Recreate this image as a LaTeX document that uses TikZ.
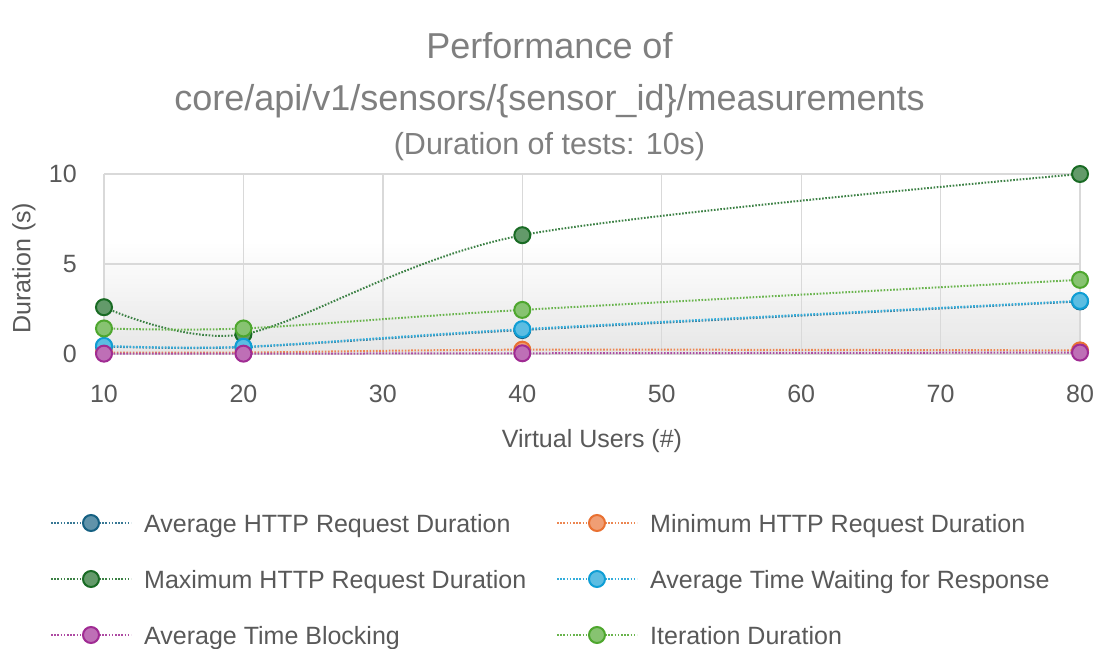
\documentclass[tikz,border=0pt]{standalone}
\usepackage{fontspec}
\setmainfont{Liberation Sans}
\definecolor{cA}{HTML}{156082}
\definecolor{cB}{HTML}{E97132}
\definecolor{cC}{HTML}{196B24}
\definecolor{cD}{HTML}{0F9ED5}
\definecolor{cE}{HTML}{A02B93}
\definecolor{cF}{HTML}{4EA72E}
\definecolor{labelgray}{HTML}{595959}
\definecolor{titlegray}{HTML}{7F7F7F}
\definecolor{gridgray}{HTML}{D9D9D9}
\definecolor{shadegray}{HTML}{E6E6E6}
\begin{document}
\begin{tikzpicture}[x=1pt,y=-1pt,
  lbl/.style={text=labelgray,font=\fontsize{25}{30}\selectfont,inner sep=0pt},
  ttl/.style={text=titlegray,font=\fontsize{36}{42}\selectfont,inner sep=0pt,anchor=base},
  subttl/.style={text=titlegray,font=\fontsize{30.5}{36}\selectfont,inner sep=0pt,anchor=base},
  gridln/.style={draw=gridgray,line width=1.3pt},
  mk/.style={circle,minimum size=16pt,inner sep=0pt,line width=2pt,draw=#1,fill=#1!68!white},
  ser/.style={draw=#1!85!white,line width=2pt,dash pattern=on 1.6pt off 1.6pt},
]
\fill[white] (0,0) rectangle (1099,648);
\useasboundingbox (0,0) rectangle (1099,648);

% title
\node[ttl] (t1) at (549.5,58) {Performance of};
\node[ttl] (t2) at (549.5,110) {core/api/v1/sensors/\{sensor\_id\}/measurements};
\node[subttl] (t3) at (549.5,154) {(Duration of tests: 10s)};

% plot area background: light grey gradient growing towards the bottom
\foreach \k in {0,...,24} {
  \pgfmathsetmacro\p{(\k+0.5)*4}
  \fill[shadegray!\p!white] (104,{244+\k*4.4}) rectangle (1080,{244+\k*4.4+4.6});
}

% plot
\begin{scope}[shift={(-35.43pt,-354pt)},x=13.943pt,y=18pt]
  \foreach \v in {10,20,...,80} {
    \draw[gridln] (\v,0) -- (\v,10);
    \node[lbl] (xt\v) at (\v,-2.22) {\v};
  }
  \foreach \d in {0,5,10} {
    \draw[gridln] (10,\d) -- (80,\d);
    \node[lbl,anchor=east] (yt\d) at (8.06,\d) {\d};
  }
  % data coordinates
  \coordinate (a1) at (10,0.42); \coordinate (a2) at (20,0.38); \coordinate (a3) at (40,1.33); \coordinate (a4) at (80,2.92);
  \coordinate (n1) at (10,0.08); \coordinate (n2) at (20,0.08); \coordinate (n3) at (40,0.24); \coordinate (n4) at (80,0.2);
  \coordinate (x1) at (10,2.6);  \coordinate (x2) at (20,1.1);  \coordinate (x3) at (40,6.6);  \coordinate (x4) at (80,10);
  \coordinate (w1) at (10,0.45); \coordinate (w2) at (20,0.4);  \coordinate (w3) at (40,1.38); \coordinate (w4) at (80,2.95);
  \coordinate (b1) at (10,0.02); \coordinate (b2) at (20,0.02); \coordinate (b3) at (40,0.04); \coordinate (b4) at (80,0.08);
  \coordinate (i1) at (10,1.42); \coordinate (i2) at (20,1.42); \coordinate (i3) at (40,2.45); \coordinate (i4) at (80,4.12);
  \foreach \s/\c in {a/cA,n/cB,x/cC,w/cD,b/cE,i/cF} {
    \draw[ser=\c] plot[smooth] coordinates {(\s1) (\s2) (\s3) (\s4)};
    \foreach \k in {1,2,3,4} \node[mk=\c] (m\s\k) at (\s\k) {};
  }
\end{scope}

% axis titles
\node[lbl,rotate=90] (ytitle) at (24,268) {Duration (s)};
\node[lbl,anchor=base] (xtitle) at (592,447) {Virtual Users (\#)};

% legend
\foreach \c/\mx/\yy/\txt/\nm in {cA/91/523/Average HTTP Request Duration/1,
    cB/597/523/Minimum HTTP Request Duration/2,
    cC/91/579/Maximum HTTP Request Duration/3,
    cD/597/579/Average Time Waiting for Response/4,
    cE/91/635/Average Time Blocking/5,
    cF/597/635/Iteration Duration/6} {
  \coordinate (la\nm) at (\mx-40,\yy);
  \coordinate (lb\nm) at (\mx+40,\yy);
  \draw[ser=\c] (la\nm) -- (lb\nm);
  \node[mk=\c] (lm\nm) at (\mx,\yy) {};
  \node[lbl,anchor=base west] (lt\nm) at (\mx+53,\yy+9) {\txt};
}
\end{tikzpicture}
\end{document}
